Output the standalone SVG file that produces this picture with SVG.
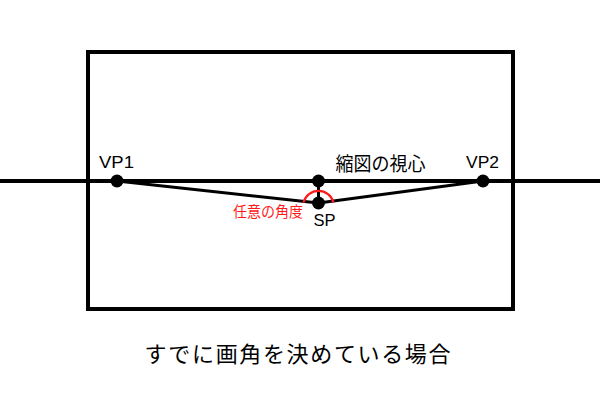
<svg xmlns="http://www.w3.org/2000/svg" width="600" height="400" viewBox="0 0 600 400">
<style>
.ln{stroke:#000;fill:none;stroke-linecap:round}
.dot{fill:#000}
.lat{font-family:"Liberation Sans",Arial,sans-serif;fill:#000}
.jp{font-family:"Noto Sans CJK JP","Noto Sans",sans-serif;fill:#000}
</style>
<rect width="600" height="400" fill="#fff"/>
<g id="frame"><rect x="88" y="52" width="425" height="257" fill="none" stroke="#000" stroke-width="4"/></g>
<g id="connectors">
<line class="ln" x1="0" y1="181" x2="600" y2="181" stroke-width="4" style="stroke-linecap:butt"/>
<polyline class="ln" points="117,181 318.5,203 483,181" stroke-width="3" stroke-linejoin="round"/>
<line class="ln" x1="318.5" y1="181" x2="318.5" y2="203" stroke-width="3"/>
<path d="M303.5,202.5 A15.5,15.5 0 0 1 333.5,202.5" fill="none" stroke="#ff1a1a" stroke-width="2.2"/>
</g>
<g id="vp1"><circle class="dot" cx="117" cy="181" r="6.5"/><text class="lat" x="99" y="167.7" font-size="16" textLength="35" lengthAdjust="spacingAndGlyphs">VP1</text></g>
<g id="center"><circle class="dot" cx="318.5" cy="181" r="6.5"/><text class="jp" x="335.5" y="170.5" font-size="19" textLength="90" lengthAdjust="spacingAndGlyphs">縮図の視心</text></g>
<g id="vp2"><circle class="dot" cx="483" cy="181" r="6.5"/><text class="lat" x="466" y="167.7" font-size="16.5" textLength="33" lengthAdjust="spacingAndGlyphs">VP2</text></g>
<g id="sp"><circle class="dot" cx="318.5" cy="203" r="6.5"/><text class="lat" x="313.5" y="225.7" font-size="16.5">SP</text></g>
<g id="angle"><text class="jp" x="303" y="216.5" font-size="14.5" textLength="70" lengthAdjust="spacingAndGlyphs" text-anchor="end" style="fill:#ff1a1a">任意の角度</text></g>
<g id="caption"><text class="jp" x="144.5" y="362" font-size="22" textLength="306" lengthAdjust="spacing">すでに画角を決めている場合</text></g>
</svg>
